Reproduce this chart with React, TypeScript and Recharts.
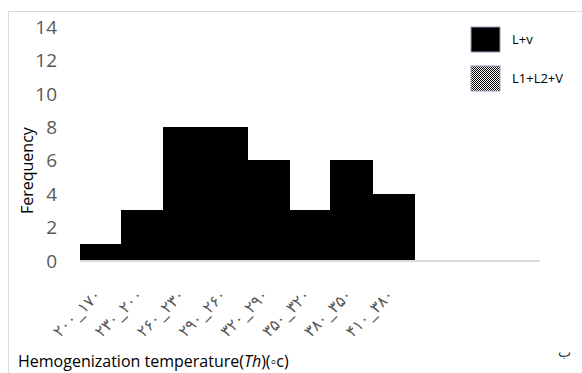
import { Bar, BarChart, XAxis, YAxis } from "recharts";

const ranges = [
  "۲۰۰_۱۷۰",
  "۲۳۰_۲۰۰",
  "۲۶۰_۲۳۰",
  "۲۹۰_۲۶۰",
  "۳۲۰_۲۹۰",
  "۳۵۰_۳۲۰",
  "۳۸۰_۳۵۰",
  "۴۱۰_۳۸۰",
  "",
  "",
  "",
];
const lvCounts = [1, 3, 8, 8, 6, 3, 6, 4, 0, 0, 0];
const l1l2vCounts = [0, 0, 0, 0, 0, 0, 0, 0, 0, 0, 0];
const yTicks = [0, 2, 4, 6, 8, 10, 12, 14];

const data = ranges.map((range, i) => ({
  range,
  lv: lvCounts[i],
  l1l2v: l1l2vCounts[i],
}));

const RangeTick = ({ x, y, payload }: any) => {
  if (!payload.value) return null;
  return (
    <text
      transform={`translate(${x + 1},${y + 27}) rotate(-45)`}
      textAnchor="end"
      fontFamily="DejaVu Sans"
      fontSize={16}
      fill="#595959"
    >
      {payload.value}
    </text>
  );
};

const LegendBox = () => (
  <svg width={110} height={80} style={{ position: "absolute", left: 470, top: 26 }}>
    <defs>
      <pattern id="check" width={2} height={2} patternUnits="userSpaceOnUse">
        <rect width={2} height={2} fill="#fff" />
        <rect width={1} height={1} fill="#000" />
        <rect x={1} y={1} width={1} height={1} fill="#000" />
      </pattern>
    </defs>
    <rect x={1} y={1} width={29} height={25} fill="#000" stroke="#8ea0b8" />
    <text x={42} y={18} fontFamily="Open Sans" fontSize={13} fill="#000">
      L+v
    </text>
    <rect x={1} y={40} width={29} height={25} fill="url(#check)" stroke="#8ea0b8" />
    <text x={42} y={57} fontFamily="Open Sans" fontSize={13} fill="#000">
      L1+L2+V
    </text>
  </svg>
);

const App = () => {
  return (
    <div
      style={{
        position: "absolute",
        left: 0,
        top: 0,
        width: 582,
        height: 373,
        overflow: "hidden",
        background: "#fff",
      }}
    >
      <div
        style={{
          position: "absolute",
          left: 8,
          top: 11,
          width: 700,
          height: 500,
          borderTop: "1px solid #d9d9d9",
          borderLeft: "1px solid #d9d9d9",
        }}
      />
      <BarChart
        width={582}
        height={373}
        data={data}
        margin={{ top: 27, right: 42, left: 0, bottom: 0 }}
        barCategoryGap={0}
        style={{ position: "absolute", left: 0, top: 0 }}
      >
        <YAxis
          width={80}
          domain={[0, 14]}
          ticks={yTicks}
          interval={0}
          axisLine={false}
          tickLine={false}
          tickSize={0}
          tickMargin={23}
          tick={{ fill: "#595959", fontSize: 19, fontFamily: "Open Sans" }}
          label={{
            value: "Ferequency",
            angle: -90,
            position: "insideLeft",
            dx: 22,
            dy: 70,
            style: { fontFamily: "Open Sans", fontSize: 16, fill: "#000" },
          }}
        />
        <XAxis
          dataKey="range"
          height={112}
          interval={0}
          axisLine={{ stroke: "#d9d9d9", strokeWidth: 2 }}
          tickLine={false}
          tick={<RangeTick />}
          label={() => (
            <text x={18} y={367} fontFamily="Open Sans" fontSize={16} fill="#000">
              Hemogenization temperature(<tspan fontStyle="italic">Th</tspan>)(◦c)
            </text>
          )}
        />
        <Bar
          dataKey="lv"
          stackId="a"
          fill="#000"
          stroke="#000"
          strokeWidth={1}
          shapeRendering="crispEdges"
          isAnimationActive={false}
        />
        <Bar dataKey="l1l2v" stackId="a" fill="#808080" isAnimationActive={false} />
      </BarChart>
      <LegendBox />
      <div
        style={{
          position: "absolute",
          left: 558,
          top: 344,
          fontFamily: "DejaVu Sans",
          fontSize: 14,
          color: "#333",
        }}
      >
        ب
      </div>
    </div>
  );
};

export default App;
